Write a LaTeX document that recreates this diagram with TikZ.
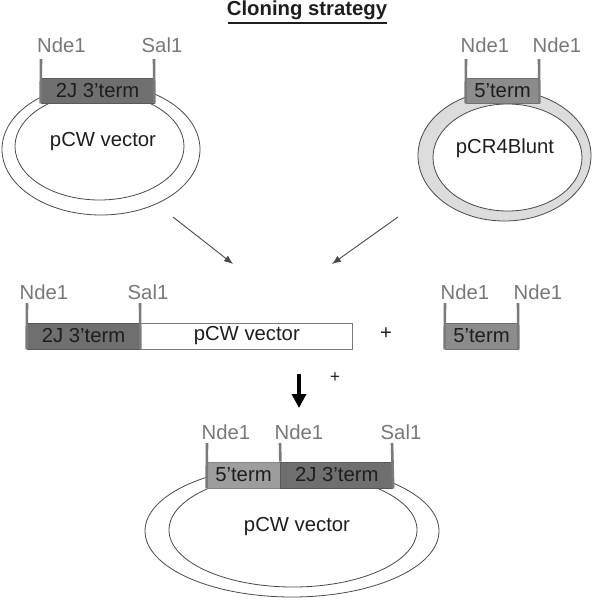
\documentclass[tikz,border=0pt]{standalone}
\usepackage{fontspec}
\setmainfont{Liberation Sans}
\usetikzlibrary{arrows.meta}
\definecolor{labelgray}{HTML}{787878}
\definecolor{markgray}{HTML}{7A7A7A}
\definecolor{darkfill}{HTML}{6F6F6F}
\definecolor{midfill}{HTML}{8C8C8C}
\definecolor{lightfill}{HTML}{9D9D9D}
\definecolor{ringfill}{HTML}{DCDCDC}
\definecolor{edgegray}{HTML}{4A4A4A}
\definecolor{txtblack}{HTML}{1E1E1E}
\begin{document}
\begin{tikzpicture}[x=1pt,y=-1pt,
  lbl/.style={text=labelgray, font=\fontsize{20.3}{23}\selectfont, inner sep=0pt},
  txt/.style={text=txtblack, font=\fontsize{20.3}{23}\selectfont, inner sep=0pt},
  boxbase/.style={line width=0.8pt, minimum height=25pt, inner sep=0pt, text=txtblack, font=\fontsize{20.3}{23}\selectfont},
  darkbox/.style={boxbase, draw=darkfill!80!black, fill=darkfill},
  midbox/.style={boxbase, draw=midfill!80!black, fill=midfill},
  lightbox/.style={boxbase, draw=lightfill!85!black, fill=lightfill},
  whitebox/.style={boxbase, draw=markgray, fill=white},
  marker/.style={draw=markgray, line width=2.6pt},
  ring/.style={draw=edgegray, line width=0.8pt},
  thinarrow/.style={draw=edgegray, line width=0.9pt, -{Latex[length=9pt,width=7pt]}},
  bigarrow/.style={draw=black, line width=4pt, -{Triangle[length=14pt,width=14pt]}}
]
\useasboundingbox (0,0) rectangle (592,600);

% title
\node[font=\bfseries\fontsize{20.3}{23}\selectfont, text=txtblack, inner sep=0pt] (title) at (307,10) {Cloning strategy};
\coordinate (ul1) at (228,22.5);
\coordinate (ul2) at (387,22.5);
\draw[line width=2pt, txtblack] (ul1) -- (ul2);

% ---- top-left plasmid ----
\draw[ring, fill=white] (101,149.3) ellipse [x radius=99, y radius=65.7];
\draw[ring] (99.5,146.4) ellipse [x radius=84.5, y radius=53.6];
\node[darkbox, minimum width=113pt] (A) at (97.5,90.5) {2J 3’term};
\coordinate (A1) at (41,59);
\coordinate (A2) at (154,59);
\draw[marker] (A.south west) -- (A1);
\draw[marker] (A.south east) -- (A2);
\node[lbl] (An) at (61.5,45) {Nde1};
\node[lbl] (As) at (162,45) {Sal1};
\node[txt] (Av) at (103,142) {pCW vector};

% ---- top-right plasmid ----
\fill[ringfill, even odd rule] (504.5,155.6) ellipse [x radius=86.5, y radius=65.4]
   (507.5,157.5) ellipse [x radius=74.5, y radius=53.5];
\draw[ring] (504.5,155.6) ellipse [x radius=86.5, y radius=65.4];
\draw[ring] (507.5,157.5) ellipse [x radius=74.5, y radius=53.5];
\node[midbox, minimum width=73pt] (B) at (502.5,90.5) {5’term};
\coordinate (B1) at (466,59);
\coordinate (B2) at (539,59);
\draw[marker] (B.south west) -- (B1);
\draw[marker] (B.south east) -- (B2);
\node[lbl] (Bn1) at (485,45) {Nde1};
\node[lbl] (Bn2) at (557,45) {Nde1};
\node[txt] (Bv) at (505,148) {pCR4Blunt};

% ---- arrows ----
\coordinate (s1) at (173,217);
\coordinate (e1) at (233,264);
\coordinate (s2) at (398,217);
\coordinate (e2) at (332,264);
\draw[thinarrow] (s1) -- (e1);
\draw[thinarrow] (s2) -- (e2);

% ---- middle row ----
\node[darkbox, minimum width=113pt, minimum height=26pt] (C) at (83.5,336) {2J 3’term};
\node[whitebox, minimum width=212pt, minimum height=26pt, anchor=west] (D) at (C.east) {pCW vector};
\coordinate (C1) at (27,303);
\coordinate (C2) at (140,303);
\draw[marker] (C.south west) -- (C1);
\draw[marker] (C.south east) -- (C2);
\node[lbl] (Cn) at (44,292) {Nde1};
\node[lbl] (Cs) at (148,292) {Sal1};
\node[txt] (plus1) at (386,334) {+};
\node[midbox, minimum width=73pt, minimum height=26pt] (E) at (481.5,336) {5’term};
\coordinate (E1) at (445,303);
\coordinate (E2) at (518,303);
\draw[marker] (E.south west) -- (E1);
\draw[marker] (E.south east) -- (E2);
\node[lbl] (En1) at (465,292) {Nde1};
\node[lbl] (En2) at (538,292) {Nde1};

% ---- big arrow ----
\coordinate (bs) at (299,374);
\coordinate (be) at (299,408);
\draw[bigarrow] (bs) -- (be);
\node[txt, font=\fontsize{17}{20}\selectfont] (plus2) at (335,378) {+};

% ---- bottom plasmid ----
\draw[ring, fill=white] (292,531) ellipse [x radius=147, y radius=66];
\draw[ring] (293,530) ellipse [x radius=124, y radius=57];
\node[lightbox, minimum width=73pt, minimum height=26pt] (F) at (243.5,475) {5’term};
\node[darkbox, minimum width=112pt, minimum height=26pt, anchor=west] (G) at (F.east) {2J 3’term};
\coordinate (F1) at (207,443);
\coordinate (F2) at (280,443);
\coordinate (G2) at (392,443);
\draw[marker] (F.south west) -- (F1);
\draw[marker] (F.north east) -- (F2);
\draw[marker] (G.south east) -- (G2);
\node[lbl] (Fn1) at (226,432) {Nde1};
\node[lbl] (Fn2) at (299,432) {Nde1};
\node[lbl] (Gs) at (401,432) {Sal1};
\node[txt] (Gv) at (297,527) {pCW vector};
\end{tikzpicture}
\end{document}
